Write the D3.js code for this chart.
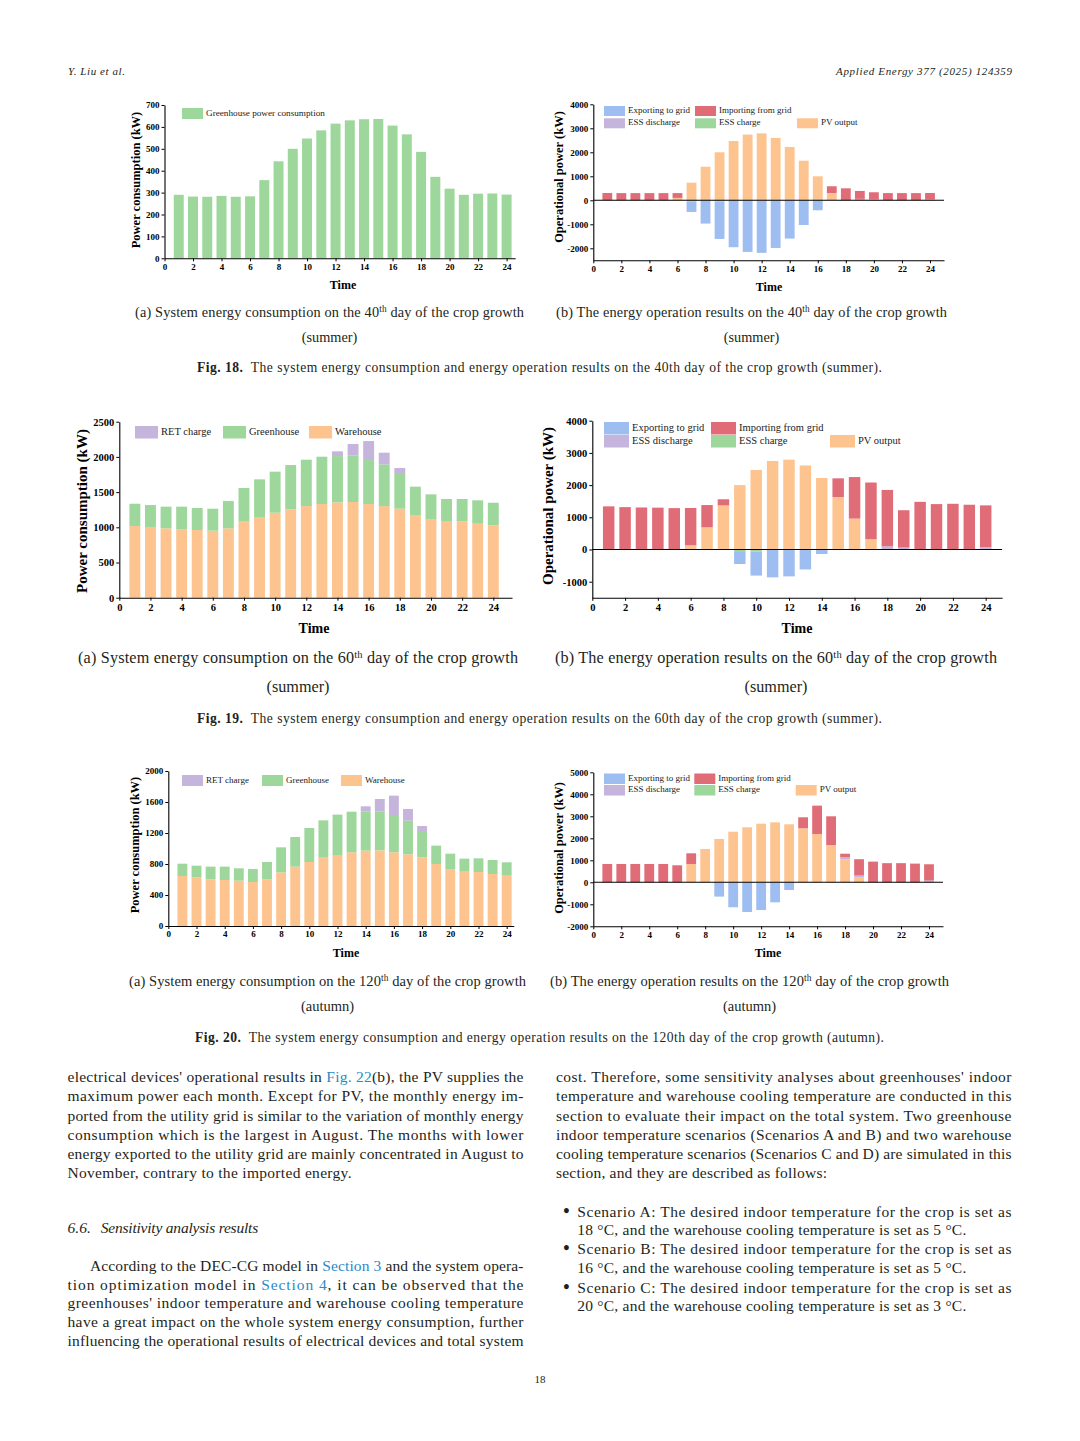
<!DOCTYPE html>
<html><head><meta charset="utf-8">
<script src="https://cdn.jsdelivr.net/npm/d3@7"></script>
<style>body{margin:0;background:#fff}svg{display:block}</style>
</head><body>
<svg id="page" width="1080" height="1441"></svg>
<script>
// ---------------- DATA ----------------
const hours = d3.range(1, 25);
const xTickValues = [0, 2, 4, 6, 8, 10, 12, 14, 16, 18, 20, 22, 24];

// Fig. 18(a) – day 40
const f18a_greenhouse = [290,282,281,285,281,283,357,443,500,547,584,615,630,635,636,606,566,486,372,318,290,295,296,291];
const f18a_yTicks = [0,100,200,300,400,500,600,700];

// Fig. 18(b) – day 40
const f18b_pv      = [0,0,0,0,0,100,735,1400,2000,2470,2740,2790,2600,2220,1650,1000,305,0,0,0,0,0,0,0];
const f18b_essDis  = [0,0,0,0,0,0,0,0,0,0,0,0,0,0,0,0,0,0,60,50,0,0,0,50];
const f18b_import  = [305,300,300,300,300,200,0,0,0,0,0,0,0,0,0,0,280,500,330,285,300,300,300,255];
const f18b_essCh   = [0,0,0,0,0,0,-50,0,-60,0,0,0,0,0,0,0,0,0,0,0,0,0,0,0];
const f18b_export  = [0,0,0,0,0,0,-436,-970,-1550,-1955,-2150,-2190,-1985,-1595,-1030,-415,0,0,0,0,0,0,0,0];
const f18b_yTicks = [-2000,-1000,0,1000,2000,3000,4000];

// Fig. 19(a) – day 60
const f19a_warehouse  = [1018,1004,985,975,961,952,985,1080,1146,1207,1255,1302,1330,1354,1359,1330,1302,1264,1174,1117,1080,1084,1051,1027];
const f19a_greenhouse = [317,312,308,318,313,312,388,478,535,583,629,658,673,658,658,625,592,507,403,351,322,318,332,322];
const f19a_ret        = [0,0,0,0,0,0,0,0,0,0,0,0,0,67,166,270,166,71,0,0,0,0,0,0];
const f19a_yTicks = [0,500,1000,1500,2000,2500];

// Fig. 19(b) – day 60
const f19b_pv      = [0,0,0,0,0,130,690,1370,2000,2470,2750,2790,2610,2220,1630,960,320,0,0,0,0,0,0,0];
const f19b_essDis  = [0,0,0,0,0,0,0,0,0,0,0,0,0,0,0,0,0,100,60,0,0,0,0,70];
const f19b_import  = [1340,1316,1305,1300,1285,1160,690,190,0,0,0,0,0,0,580,1290,1760,1750,1160,1480,1410,1420,1390,1300];
const f19b_essCh   = [0,0,0,0,0,0,0,0,-50,-60,0,0,0,0,0,0,0,0,0,0,0,0,0,0];
const f19b_export  = [0,0,0,0,0,0,0,0,-400,-750,-865,-835,-620,-140,0,0,0,0,0,0,0,0,0,0];
const f19b_yTicks = [-1000,0,1000,2000,3000,4000];

// Fig. 20(a) – day 120
const f20a_warehouse  = [645,628,602,594,585,568,602,692,766,826,882,916,951,972,976,951,925,886,800,735,701,697,671,649];
const f20a_greenhouse = [159,150,164,172,159,167,224,323,382,439,481,521,524,503,499,468,434,340,237,198,168,176,181,173];
const f20a_ret        = [0,0,0,0,0,0,0,0,0,0,0,0,0,69,164,263,151,64,0,0,0,0,0,0];
const f20a_yTicks = [0,400,800,1200,1600,2000];

// Fig. 20(b) – day 120
const f20b_pv      = [0,0,0,0,0,0,833,1515,1970,2300,2500,2665,2725,2635,2455,2195,1695,1050,230,0,0,0,0,0];
const f20b_essDis  = [0,0,0,0,0,0,0,0,0,0,0,0,0,0,0,0,0,100,80,0,0,0,0,80];
const f20b_import  = [833,833,833,833,833,773,485,0,0,0,0,0,0,0,500,1290,1305,150,740,940,870,870,850,740];
const f20b_essCh   = [0,0,0,0,0,0,0,0,0,0,0,0,0,0,0,0,0,0,0,0,0,0,0,0];
const f20b_export  = [0,0,0,0,0,0,0,0,-650,-1135,-1350,-1260,-910,-350,0,0,0,0,0,0,0,0,0,0];
const f20b_yTicks = [-2000,-1000,0,1000,2000,3000,4000,5000];

// ---------------- STYLE ----------------
const C = {
  green: "#9dd79b", orange: "#fdc490", red: "#e06c78",
  blue: "#9ebdf1", purple: "#c5b4dc"
};
const SERIF = "'Liberation Serif','Times New Roman',serif";
const TXT = "#231f20";
const svg = d3.select("#page");

// ---------------- CHART ----------------
function drawChart(cfg) {
  const g = svg.append("g");
  const yRef = d3.scaleLinear().domain([cfg.yv1, cfg.yv2]).range([cfg.yp1, cfg.yp2]);
  const y = d3.scaleLinear().domain([cfg.yMin, cfg.yMax]).range([yRef(cfg.yMin), yRef(cfg.yMax)]);
  const xRef = d3.scaleLinear().domain([0, 24]).range([cfg.x0, cfg.x24]);
  const x = d3.scaleLinear().domain([0, cfg.xMax]).range([cfg.x0, xRef(cfg.xMax)]);

  const keys = cfg.series.map(s => s.key);
  const rows = hours.map((h, i) => {
    const r = { h };
    cfg.series.forEach(s => r[s.key] = s.values[i]);
    return r;
  });
  const layers = d3.stack().keys(keys).offset(d3.stackOffsetDiverging)(rows);
  const bw = x(0.7) - x(0);
  layers.forEach((layer, li) => {
    g.append("g").attr("fill", cfg.series[li].color)
      .selectAll("rect").data(layer.filter(d => d[1] !== d[0])).join("rect")
      .attr("x", d => x(d.data.h) - bw / 2)
      .attr("width", bw)
      .attr("y", d => y(Math.max(d[0], d[1])))
      .attr("height", d => Math.abs(y(d[0]) - y(d[1])));
  });

  if (cfg.zeroLine) {
    g.append("line").attr("x1", x(0)).attr("x2", x(cfg.xMax))
      .attr("y1", y(0)).attr("y2", y(0)).attr("stroke", "#000").attr("stroke-width", 1.1);
  }

  const fmt = d => String(d);
  const yAxis = g.append("g").attr("transform", `translate(${cfg.x0},0)`)
    .call(d3.axisLeft(y).tickValues(cfg.yTicks).tickFormat(fmt).tickSize(3).tickSizeOuter(0).tickPadding(2));
  const xAxis = g.append("g").attr("transform", `translate(0,${y(cfg.yMin)})`)
    .call(d3.axisBottom(x).tickValues(xTickValues).tickFormat(fmt).tickSize(3).tickSizeOuter(0).tickPadding(cfg.xPad));
  [yAxis, xAxis].forEach(a => {
    a.select(".domain").attr("stroke", "#000").attr("stroke-width", 1.1);
    a.selectAll(".tick line").attr("stroke", "#000").attr("stroke-width", 1);
    a.selectAll(".tick text").attr("font-family", SERIF).attr("font-weight", "bold")
      .attr("font-size", cfg.tickFont).attr("fill", "#000");
  });

  g.append("text").attr("transform", `translate(${cfg.yLabelX},${cfg.yLabelY}) rotate(-90)`)
    .attr("text-anchor", "middle").attr("dominant-baseline", "middle")
    .attr("font-family", SERIF).attr("font-weight", "bold").attr("font-size", cfg.yLabelFont)
    .text(cfg.yLabel);
  g.append("text").attr("x", cfg.timeX).attr("y", cfg.timeY)
    .attr("text-anchor", "middle").attr("dominant-baseline", "middle")
    .attr("font-family", SERIF).attr("font-weight", "bold").attr("font-size", cfg.timeFont)
    .text("Time");

  cfg.legend.forEach(L => {
    const s = cfg.series.find(s => s.key === L.key);
    g.append("rect").attr("x", L.x).attr("y", L.y).attr("width", cfg.legW).attr("height", cfg.legH)
      .attr("fill", s.color);
    g.append("text").attr("x", L.x + cfg.legW + 3).attr("y", L.y + cfg.legH / 2)
      .attr("dominant-baseline", "middle").attr("font-family", SERIF)
      .attr("font-size", cfg.legFont).attr("fill", "#222").text(s.label);
  });
}

const opSeries = (pv, dis, imp, ch, exp) => [
  { key: "pv", label: "PV output", color: C.orange, values: pv },
  { key: "dis", label: "ESS discharge", color: C.purple, values: dis },
  { key: "imp", label: "Importing from grid", color: C.red, values: imp },
  { key: "ch", label: "ESS charge", color: C.green, values: ch },
  { key: "exp", label: "Exporting to grid", color: C.blue, values: exp }
];
const consSeries = (wh, gh, ret) => [
  { key: "wh", label: "Warehouse", color: C.orange, values: wh },
  { key: "gh", label: "Greenhouse", color: C.green, values: gh },
  { key: "ret", label: "RET charge", color: C.purple, values: ret }
];

drawChart({
  series: [{ key: "gh", label: "Greenhouse power consumption", color: C.green, values: f18a_greenhouse }],
  yv1: 0, yp1: 258.3, yv2: 700, yp2: 105, yMin: 0, yMax: 700, yTicks: f18a_yTicks,
  x0: 164.5, x24: 506.6, xMax: 24.6, xPad: 2, tickFont: 9,
  yLabel: "Power consumption (kW)", yLabelX: 137.5, yLabelY: 180, yLabelFont: 12.5,
  timeX: 343, timeY: 286.5, timeFont: 12,
  legW: 21, legH: 11, legFont: 9.2,
  legend: [{ key: "gh", x: 182, y: 108 }]
});
drawChart({
  series: opSeries(f18b_pv, f18b_essDis, f18b_import, f18b_essCh, f18b_export), zeroLine: true,
  yv1: 4000, yp1: 104.3, yv2: -2000, yp2: 248.3, yMin: -2500, yMax: 4000, yTicks: f18b_yTicks,
  x0: 593.3, x24: 930, xMax: 25, xPad: 2, tickFont: 9,
  yLabel: "Operational power (kW)", yLabelX: 560.5, yLabelY: 177, yLabelFont: 12.5,
  timeX: 769, timeY: 288, timeFont: 12,
  legW: 21, legH: 10, legFont: 9,
  legend: [{ key: "exp", x: 604, y: 106 }, { key: "imp", x: 695, y: 106 },
           { key: "dis", x: 604, y: 118.3 }, { key: "ch", x: 695, y: 118.3 }, { key: "pv", x: 797, y: 118.3 }]
});
drawChart({
  series: consSeries(f19a_warehouse, f19a_greenhouse, f19a_ret),
  yv1: 0, yp1: 597.7, yv2: 2500, yp2: 421.7, yMin: 0, yMax: 2500, yTicks: f19a_yTicks,
  x0: 119.3, x24: 493.3, xMax: 25.2, xPad: 3, tickFont: 10.5,
  yLabel: "Power consumption (kW)", yLabelX: 83.5, yLabelY: 511, yLabelFont: 15,
  timeX: 314, timeY: 630, timeFont: 14,
  legW: 23, legH: 12.5, legFont: 10.5,
  legend: [{ key: "ret", x: 135, y: 426 }, { key: "gh", x: 223, y: 426 }, { key: "wh", x: 309, y: 426 }]
});
drawChart({
  series: opSeries(f19b_pv, f19b_essDis, f19b_import, f19b_essCh, f19b_export), zeroLine: true,
  yv1: 4000, yp1: 420.7, yv2: -1000, yp2: 581.7, yMin: -1500, yMax: 4000, yTicks: f19b_yTicks,
  x0: 592.3, x24: 985.7, xMax: 25, xPad: 3, tickFont: 10.5,
  yLabel: "Operational power (kW)", yLabelX: 549.5, yLabelY: 506, yLabelFont: 15,
  timeX: 797, timeY: 630, timeFont: 14,
  legW: 25, legH: 12.5, legFont: 10.5,
  legend: [{ key: "exp", x: 604, y: 422 }, { key: "imp", x: 711, y: 422 },
           { key: "dis", x: 604, y: 435 }, { key: "ch", x: 711, y: 435 }, { key: "pv", x: 830, y: 435 }]
});
drawChart({
  series: consSeries(f20a_warehouse, f20a_greenhouse, f20a_ret),
  yv1: 0, yp1: 926, yv2: 2000, yp2: 771, yMin: 0, yMax: 2000, yTicks: f20a_yTicks,
  x0: 168.3, x24: 506.7, xMax: 24.5, xPad: 2, tickFont: 9,
  yLabel: "Power consumption (kW)", yLabelX: 136, yLabelY: 845, yLabelFont: 12.5,
  timeX: 346, timeY: 954, timeFont: 12,
  legW: 21, legH: 11, legFont: 9,
  legend: [{ key: "ret", x: 182, y: 775 }, { key: "gh", x: 262, y: 775 }, { key: "wh", x: 341, y: 775 }]
});
drawChart({
  series: opSeries(f20b_pv, f20b_essDis, f20b_import, f20b_essCh, f20b_export), zeroLine: true,
  yv1: 5000, yp1: 772.3, yv2: -2000, yp2: 926.3, yMin: -2000, yMax: 5000, yTicks: f20b_yTicks,
  x0: 593.3, x24: 929, xMax: 25, xPad: 2, tickFont: 9,
  yLabel: "Operational power (kW)", yLabelX: 560.5, yLabelY: 848, yLabelFont: 12.5,
  timeX: 768, timeY: 954, timeFont: 12,
  legW: 21, legH: 10.5, legFont: 9,
  legend: [{ key: "exp", x: 604, y: 773.5 }, { key: "imp", x: 694.3, y: 773.5 },
           { key: "dis", x: 604, y: 785 }, { key: "ch", x: 694.3, y: 785 }, { key: "pv", x: 795.7, y: 785 }]
});

// ---------------- TEXT ----------------
function line(x, y, segs, opt = {}) {
  const t = svg.append("text").attr("x", x).attr("y", y)
    .attr("font-family", opt.family || SERIF).attr("font-size", opt.size || 15.5)
    .attr("fill", opt.fill || TXT).attr("text-anchor", opt.anchor || "start")
    .style("white-space", "pre");
  if (opt.italic) t.attr("font-style", "italic");
  if (opt.bold) t.attr("font-weight", "bold");
  if (opt.width) t.attr("textLength", opt.width).attr("lengthAdjust", "spacing");
  (typeof segs === "string" ? [[segs]] : segs).forEach(s => {
    const ts = t.append("tspan").text(s[0]);
    const st = s[1] || {};
    if (st.bold) ts.attr("font-weight", "bold");
    if (st.blue) ts.attr("fill", "#2a8ac8");
    if (st.sup) ts.attr("baseline-shift", "super").attr("font-size", "65%");
  });
  return t;
}

// header
line(68, 74.5, "Y. Liu et al.", { size: 11, italic: true, width: 57 });
line(836, 74.5, "Applied Energy 377 (2025) 124359", { size: 11, italic: true, width: 176 });

// sub captions
function subCap(x1, x2, y1, y2, a, dayTxt, season, size) {
  line(x1, y1, [[a + " on the " + dayTxt], ["th", { sup: true }], [" day of the crop growth"]], { size, width: x2 - x1 });
  line((x1 + x2) / 2, y2, season, { size, anchor: "middle" });
}
subCap(135, 524, 316.5, 341.5, "(a) System energy consumption", "40", "(summer)", 14.3);
subCap(556, 947, 316.5, 341.5, "(b) The energy operation results", "40", "(summer)", 14.3);
subCap(78, 518, 663, 692, "(a) System energy consumption", "60", "(summer)", 16.2);
subCap(555, 997, 663, 692, "(b) The energy operation results", "60", "(summer)", 16.2);
subCap(129, 526, 985.5, 1010.5, "(a) System energy consumption", "120", "(autumn)", 14.5);
subCap(550, 949, 985.5, 1010.5, "(b) The energy operation results", "120", "(autumn)", 14.5);

// figure captions
line(197, 372, [["Fig. 18.", { bold: true }], ["  The system energy consumption and energy operation results on the 40th day of the crop growth (summer)."]], { size: 13.6, width: 685 });
line(197, 723, [["Fig. 19.", { bold: true }], ["  The system energy consumption and energy operation results on the 60th day of the crop growth (summer)."]], { size: 13.6, width: 685 });
line(195, 1042, [["Fig. 20.", { bold: true }], ["  The system energy consumption and energy operation results on the 120th day of the crop growth (autumn)."]], { size: 13.6, width: 689 });

// left column
const LX = 67.5, LW = 456;
const leftLines = [
  [1082, [["electrical devices' operational results in "], ["Fig. 22", { blue: true }], ["(b), the PV supplies the"]], true],
  [1101, [["maximum power each month. Except for PV, the monthly energy im-"]], true],
  [1120.5, [["ported from the utility grid is similar to the variation of monthly energy"]], true],
  [1140, [["consumption which is the largest in August. The months with lower"]], true],
  [1159, [["energy exported to the utility grid are mainly concentrated in August to"]], true],
  [1178, [["November, contrary to the imported energy."]], false]
];
leftLines.forEach(([y, segs, just]) => line(LX, y, segs, just ? { width: LW } : { width: 284 }));
line(LX, 1232.5, "6.6.", { italic: true });
line(100.7, 1232.5, "Sensitivity analysis results", { italic: true, width: 157.5 });
const left2 = [
  [90, 1270.5, [["According to the DEC-CG model in "], ["Section 3", { blue: true }], [" and the system opera-"]]],
  [LX, 1289.5, [["tion optimization model in "], ["Section 4", { blue: true }], [", it can be observed that the"]]],
  [LX, 1308, [["greenhouses' indoor temperature and warehouse cooling temperature"]]],
  [LX, 1327, [["have a great impact on the whole system energy consumption, further"]]],
  [LX, 1346, [["influencing the operational results of electrical devices and total system"]]]
];
left2.forEach(([x, y, segs]) => line(x, y, segs, { width: LX + LW - x }));

// right column
const RX = 556, RW = 455.5;
const rightLines = [
  [1082, "cost. Therefore, some sensitivity analyses about greenhouses' indoor", RW],
  [1101, "temperature and warehouse cooling temperature are conducted in this", RW],
  [1120.5, "section to evaluate their impact on the total system. Two greenhouse", RW],
  [1140, "indoor temperature scenarios (Scenarios A and B) and two warehouse", RW],
  [1159, "cooling temperature scenarios (Scenarios C and D) are simulated in this", RW],
  [1178, "section, and they are described as follows:", 271]
];
rightLines.forEach(([y, s, w]) => line(RX, y, s, { width: w }));
const BX = 577.3;
const bullets = [
  [1216.5, "Scenario A: The desired indoor temperature for the crop is set as", "18 °C, and the warehouse cooling temperature is set as 5 °C."],
  [1254, "Scenario B: The desired indoor temperature for the crop is set as", "16 °C, and the warehouse cooling temperature is set as 5 °C."],
  [1292.5, "Scenario C: The desired indoor temperature for the crop is set as", "20 °C, and the warehouse cooling temperature is set as 3 °C."]
];
bullets.forEach(([y, a, b]) => {
  line(566.5, y, "•", { size: 18, anchor: "middle", bold: true });
  line(BX, y, a, { width: RX + RW - BX });
  line(BX, y + 18.8, b, { width: 389 });
});

// page number
line(540, 1383, "18", { size: 11, anchor: "middle" });
</script>
</body></html>
